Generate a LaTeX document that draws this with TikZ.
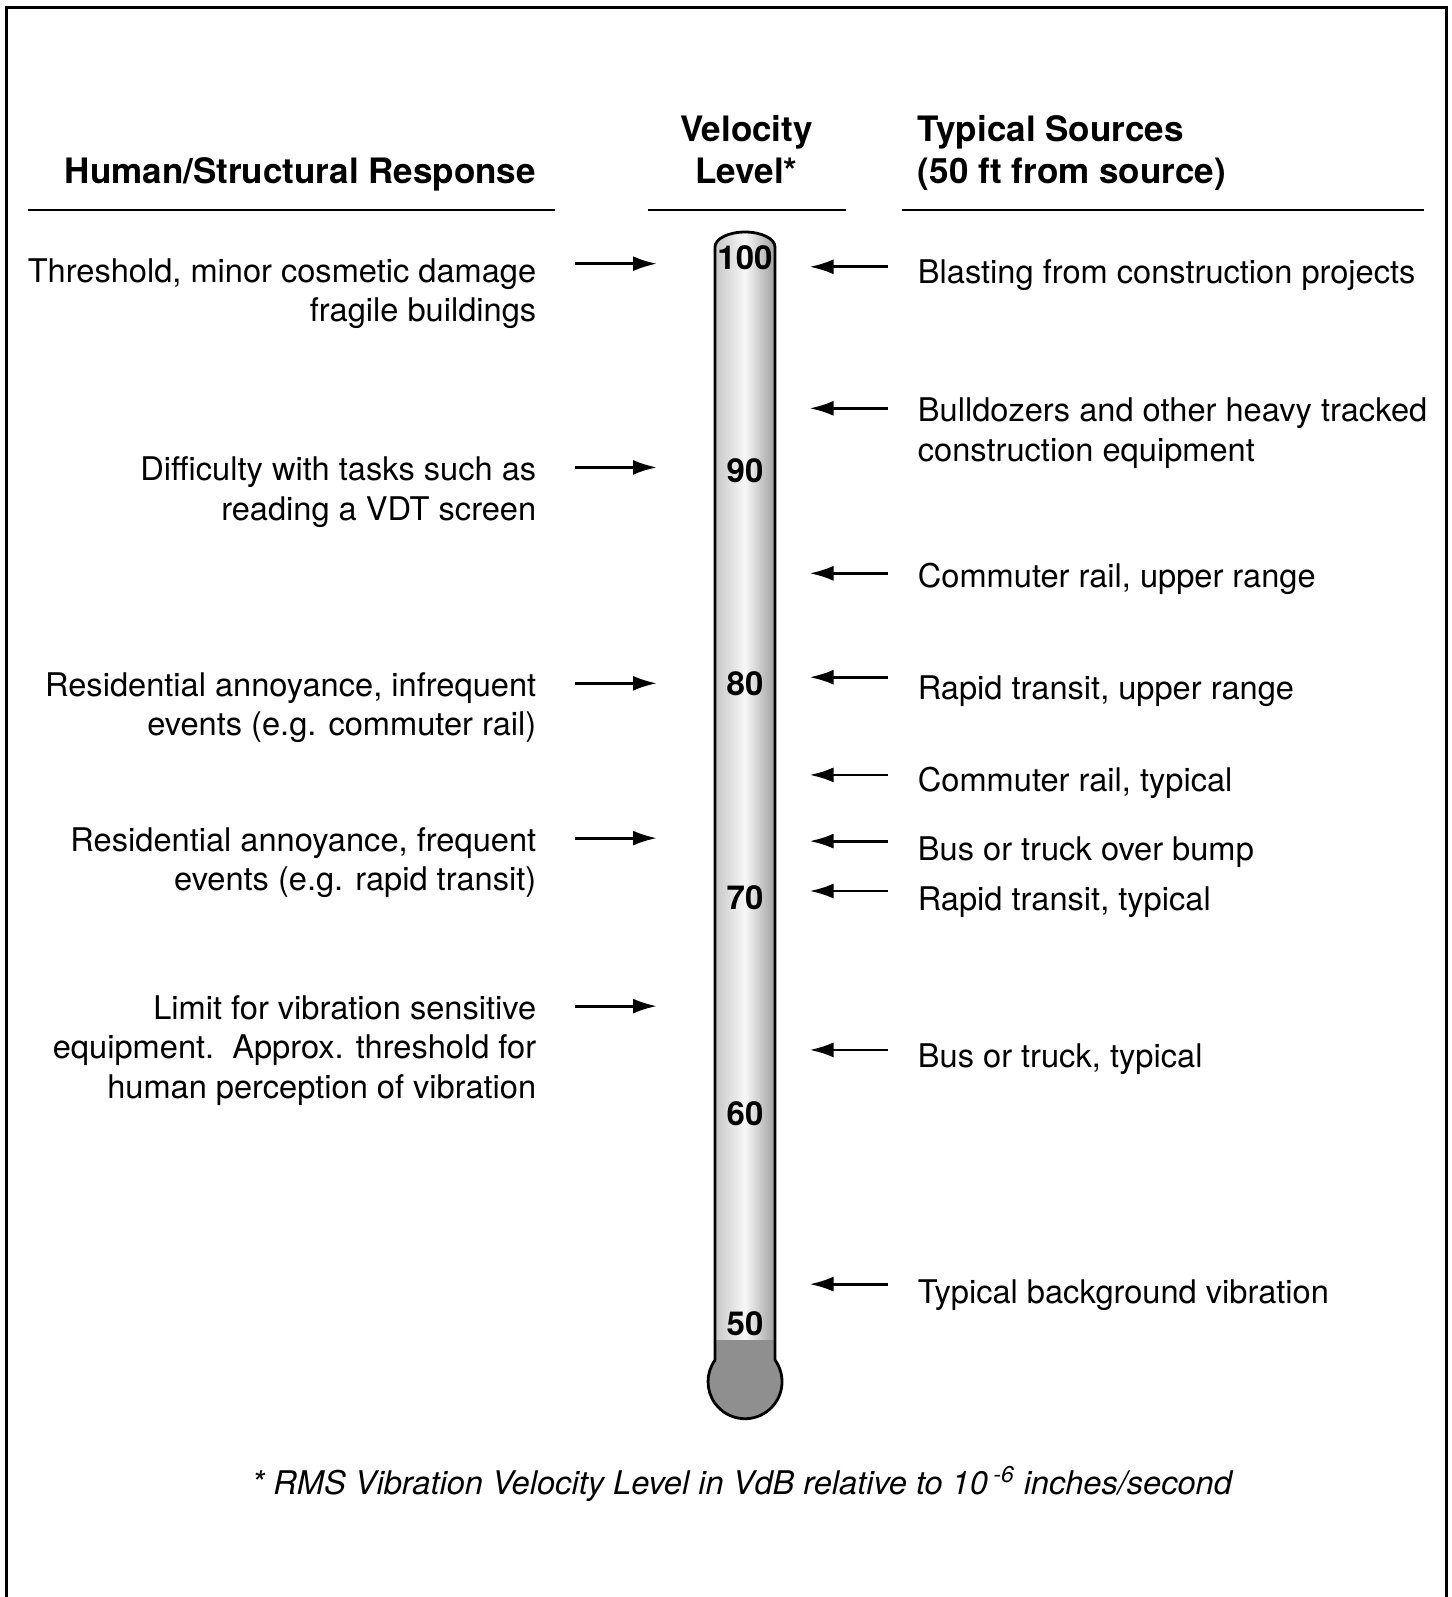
\documentclass[tikz,border=0pt]{standalone}
\usepackage{fontspec}
\setmainfont{TeX Gyre Heros}
\usetikzlibrary{arrows.meta}
\definecolor{tLeft}{gray}{0.78}
\definecolor{tMid}{gray}{0.97}
\definecolor{tRight}{gray}{0.62}
\definecolor{tBulb}{gray}{0.56}
\newcommand{\txtlines}[2]{\begin{tabular}[t]{@{}#1@{}}#2\end{tabular}}
\tikzset{
    bodytxt/.style={inner sep=0pt, font=\fontsize{16.3}{19.7}\selectfont},
    lefttxt/.style={bodytxt, anchor=mid east},
    righttxt/.style={bodytxt, anchor=mid west},
    headtxt/.style={inner sep=0pt, font=\fontsize{17.5}{21}\selectfont\bfseries},
    scalenum/.style={inner sep=0pt, font=\fontsize{16.5}{20}\selectfont\bfseries},
    notetxt/.style={inner sep=0pt, anchor=mid, font=\fontsize{16.3}{19.7}\selectfont\itshape},
    arr/.style={line width=1.4pt, -{Latex[length=12pt,width=7.5pt]}},
    headrule/.style={line width=1.3pt}
}

\begin{document}
\begin{tikzpicture}[x=0.5pt,y=-0.5pt]
\useasboundingbox[fill=white] (0,0) rectangle (1452,1597);
% frame, open at the bottom
\draw[line width=1.5pt] (6,1600) -- (6,7) -- (1446,7) -- (1446,1600);

% headings
\node[headtxt, anchor=mid] (hResp) at (300.4,178) {Human/Structural Response};
\node[headtxt, anchor=mid] (hVel) at (746.4,136.3) {\txtlines{c}{Velocity\\Level*}};
\node[headtxt, anchor=mid west] (hSrc) at (917.5,136.3) {\txtlines{l}{Typical Sources\\(50 ft from source)}};
\draw[headrule] (27.5,209.8) -- (555,209.8);
\draw[headrule] (647.6,209.8) -- (846.2,209.8);
\draw[headrule] (902.2,209.8) -- (1423.6,209.8);

% thermometer
\path[left color=tLeft, right color=tRight, middle color=tMid]
    (715,1340) -- (715,247) arc[start angle=180, end angle=360, x radius=30, y radius=15] -- (775,1340) -- cycle;
\fill[tBulb] (715,1340) -- (775,1340) -- (775,1360)
    arc[start angle=-35.9, end angle=215.9, radius=37] -- cycle;
\draw[line width=1.4pt] (715,1360) -- (715,247)
    arc[start angle=180, end angle=360, x radius=30, y radius=15] -- (775,1360)
    arc[start angle=-35.9, end angle=215.9, radius=37];

% scale
\foreach \v/\y in {100/258, 90/471, 80/684, 70/898, 60/1114, 50/1324}
    \node[scalenum] (n\v) at (745,\y) {\v};

% responses
\foreach \y [count=\i] in {263.7,467.4,683.3,838.1,1006.1} {
    \coordinate (lt\i) at (575,\y);
    \coordinate (lh\i) at (657,\y);
    \draw[arr] (lt\i) -- (lh\i);
}
\node[lefttxt] (r1) at (536.6,276.8) {\txtlines{r}{Threshold, minor cosmetic damage\\fragile buildings}};
\node[lefttxt] (r2) at (536.6,475.4) {\txtlines{r}{Difficulty with tasks such as\\reading a VDT screen}};
\node[lefttxt] (r3) at (536.6,691.3) {\txtlines{r}{Residential annoyance, infrequent\\events (e.g. commuter rail)}};
\node[lefttxt] (r4) at (536.6,846.1) {\txtlines{r}{Residential annoyance, frequent\\events (e.g. rapid transit)}};
\node[lefttxt] (r5) at (536.6,1014.1) {\txtlines{r}{Limit for vibration sensitive\\equipment.\ \ Approx. threshold for\\human perception of vibration}};

% sources
\foreach \y [count=\i] in {266.8,408.3,573.3,677.2,774.9,841.1,891,1049.9,1284.1} {
    \coordinate (st\i) at (888,\y);
    \coordinate (sh\i) at (809.5,\y);
    \draw[arr] (st\i) -- (sh\i);
}
\node[righttxt] (s1) at (917.5,277.9) {Blasting from construction projects};
\node[righttxt] (s2) at (917.5,416.4) {\txtlines{l}{Bulldozers and other heavy tracked\\construction equipment}};
\node[righttxt] (s3) at (917.5,582.3) {Commuter rail, upper range};
\node[righttxt] (s4) at (917.5,694.4) {Rapid transit, upper range};
\node[righttxt] (s5) at (917.5,786) {Commuter rail, typical};
\node[righttxt] (s6) at (917.5,855.2) {Bus or truck over bump};
\node[righttxt] (s7) at (917.5,905.1) {Rapid transit, typical};
\node[righttxt] (s8) at (917.5,1062) {Bus or truck, typical};
\node[righttxt] (s9) at (917.5,1298.2) {Typical background vibration};

% footnote
\node[notetxt] (note) at (741.8,1489.6) {* RMS Vibration Velocity Level in VdB relative to 10\,\textsuperscript{-6} inches/second};
\end{tikzpicture}
\end{document}
